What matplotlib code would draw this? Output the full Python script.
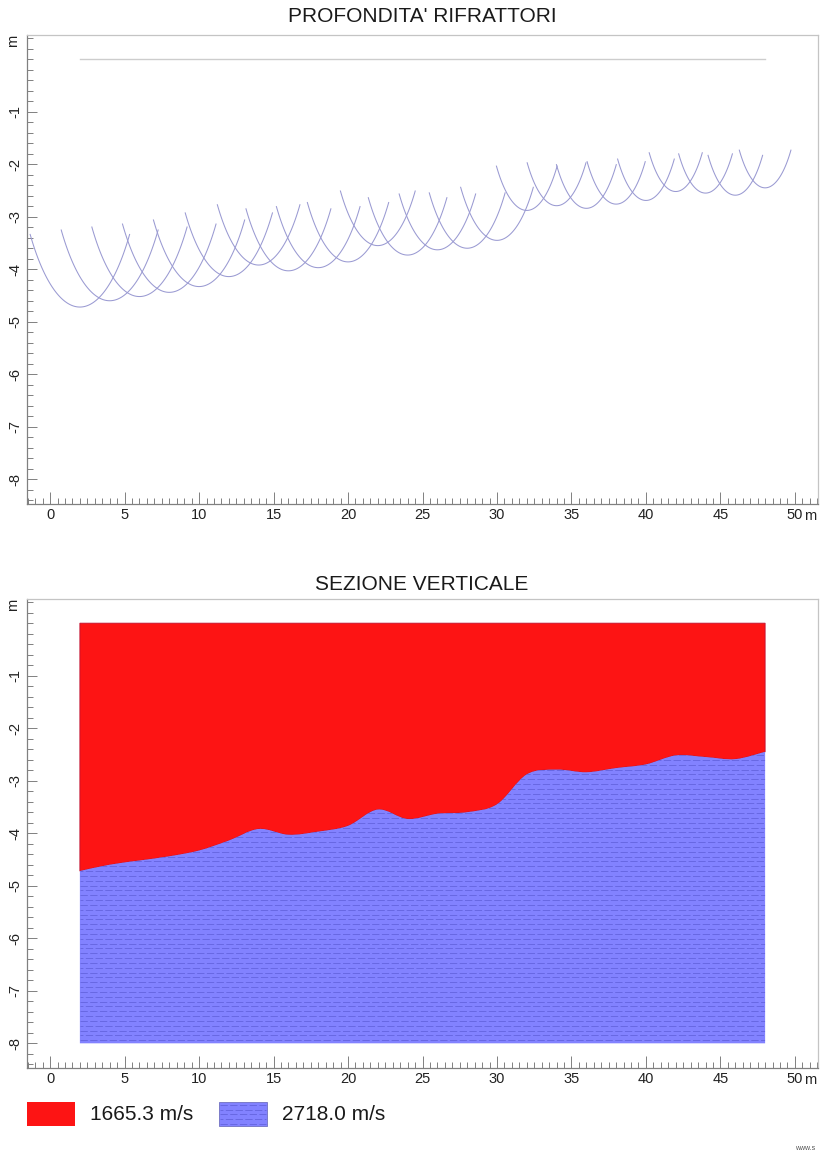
import numpy as np
import matplotlib
matplotlib.use("Agg")
import matplotlib.pyplot as plt
from matplotlib.path import Path
from matplotlib.patches import PathPatch, Rectangle
from matplotlib.lines import Line2D
from matplotlib.ticker import MultipleLocator, FixedLocator, FixedFormatter

plt.rcParams['font.family'] = ['Liberation Sans', 'DejaVu Sans']

# ---- data -------------------------------------------------------------
geophone_x = [2, 4, 6, 8, 10, 12, 14, 16, 18, 20, 22, 24,
              26, 28, 30, 32, 34, 36, 38, 40, 42, 44, 46, 48]
refractor_depth = [4.72, 4.60, 4.52, 4.44, 4.33, 4.14, 3.92, 4.03, 3.97, 3.86, 3.55, 3.73,
                   3.63, 3.60, 3.45, 2.88, 2.79, 2.84, 2.76, 2.69, 2.52, 2.55, 2.59, 2.45]
surface_level = 0.0
section_bottom = -8.0
layer_labels = ["1665.3 m/s", "2718.0 m/s"]
x_ticks = [0, 5, 10, 15, 20, 25, 30, 35, 40, 45, 50]
y_ticks = [-1, -2, -3, -4, -5, -6, -7, -8]
title_top = "PROFONDITA' RIFRATTORI"
title_bottom = "SEZIONE VERTICALE"

# ---- style ------------------------------------------------------------
W, H = 822, 1155
RED = '#fd1414'
BLUE = '#8282ff'
HATCH = '#5c5cd6'
ARC = '#9a9ad2'
XLIM = (-1.55, 51.55)
YLIM = (-8.47, 0.46)
ARC_HALF_ANGLE = np.radians(45)
TICK_FS = 10.5

fig = plt.figure(figsize=(W / 100, H / 100), dpi=100)


def px_box(left, top, right, bottom):
    return [left / W, 1 - bottom / H, (right - left) / W, (bottom - top) / H]


def style_axes(ax):
    ax.set_xlim(*XLIM)
    ax.set_ylim(*YLIM)
    for side in ('left', 'bottom'):
        ax.spines[side].set_color('#808080')
    for side in ('top', 'right'):
        ax.spines[side].set_color('#c4c4c4')
    for sp in ax.spines.values():
        sp.set_linewidth(0.9)
    ax.xaxis.set_major_locator(FixedLocator(x_ticks))
    ax.xaxis.set_major_formatter(FixedFormatter([str(v) for v in x_ticks]))
    ax.xaxis.set_minor_locator(MultipleLocator(0.5))
    ax.yaxis.set_major_locator(FixedLocator(y_ticks))
    ax.yaxis.set_major_formatter(FixedFormatter([str(v) for v in y_ticks]))
    ax.yaxis.set_minor_locator(MultipleLocator(0.2))
    ax.tick_params(axis='both', which='both', direction='in', colors='#808080',
                   labelcolor='#222222', labelsize=TICK_FS, width=0.7)
    ax.tick_params(axis='x', which='major', length=9, pad=3)
    ax.tick_params(axis='x', which='minor', length=4)
    ax.tick_params(axis='y', which='major', length=7, pad=3)
    ax.tick_params(axis='y', which='minor', length=4)
    for lab in ax.get_yticklabels():
        lab.set_rotation(90)
        lab.set_va('center')
    ax.text(-0.018, 1.0, 'm', transform=ax.transAxes, rotation=90,
            ha='center', va='top', fontsize=TICK_FS, color='#222222')
    ax.text(51.05, -0.010, 'm', transform=ax.get_xaxis_transform(),
            ha='center', va='top', fontsize=TICK_FS, color='#222222')


# ---- top panel: refractor arcs -----------------------------------------
ax1 = fig.add_axes(px_box(27, 35, 818, 504))
style_axes(ax1)
ax1.plot([geophone_x[0], geophone_x[-1]], [surface_level, surface_level],
         color='#cdcdcd', lw=1.0)
theta = np.linspace(-ARC_HALF_ANGLE, ARC_HALF_ANGLE, 80)
for xg, d in zip(geophone_x, refractor_depth):
    ax1.plot(xg + d * np.sin(theta), surface_level - d * np.cos(theta),
             color=ARC, lw=0.75)
fig.text(422 / W, 1 - 17 / H, title_top, ha='center', va='center',
         fontsize=15, color='#1a1a1a')

# ---- bottom panel: vertical section ------------------------------------
ax2 = fig.add_axes(px_box(27, 599, 818, 1068))
style_axes(ax2)

pts = np.column_stack([geophone_x, -np.asarray(refractor_depth)])


def smooth_segments(p):
    """Cubic Bezier control points of a Catmull-Rom curve through p."""
    verts, codes = [], []
    n = len(p)
    for i in range(n - 1):
        p0 = p[max(i - 1, 0)]
        p1 = p[i]
        p2 = p[i + 1]
        p3 = p[min(i + 2, n - 1)]
        c1 = p1 + (p2 - p0) / 6.0
        c2 = p2 - (p3 - p1) / 6.0
        verts += [tuple(c1), tuple(c2), tuple(p2)]
        codes += [Path.CURVE4] * 3
    return verts, codes


rev = pts[::-1]
cv, cc = smooth_segments(rev)
x0, x1 = geophone_x[0], geophone_x[-1]

red_verts = [(x0, surface_level), (x1, surface_level), tuple(rev[0])] + cv + [(x0, surface_level)]
red_codes = [Path.MOVETO, Path.LINETO, Path.LINETO] + cc + [Path.CLOSEPOLY]
red_patch = PathPatch(Path(red_verts, red_codes), facecolor=RED,
                      edgecolor='#c01030', lw=0.6)
ax2.add_patch(red_patch)

blue_verts = [(x0, section_bottom), (x1, section_bottom), tuple(rev[0])] + cv + [(x0, section_bottom)]
blue_codes = [Path.MOVETO, Path.LINETO, Path.LINETO] + cc + [Path.CLOSEPOLY]
blue_patch = PathPatch(Path(blue_verts, blue_codes), facecolor=BLUE,
                       edgecolor='none', lw=0)
ax2.add_patch(blue_patch)

# dashed texture inside the lower layer
rows = np.arange(section_bottom + 0.06, surface_level, 0.092)
for k, yr in enumerate(rows):
    ln, = ax2.plot([x0, x1], [yr, yr], color=HATCH, lw=0.7, alpha=0.7,
                   linestyle=((k % 2) * 4.5, (7.5, 2.5)))
    ln.set_clip_path(blue_patch)

fig.text(422 / W, 1 - 585 / H, title_bottom, ha='center', va='center',
         fontsize=15, color='#1a1a1a')

# ---- legend ------------------------------------------------------------
def fig_rect(left, top, right, bottom, **kw):
    r = Rectangle((left / W, 1 - bottom / H), (right - left) / W, (bottom - top) / H,
                  transform=fig.transFigure, **kw)
    fig.add_artist(r)
    return r


fig_rect(27, 1102, 75, 1126, facecolor=RED, edgecolor='none')
fig_rect(219, 1102, 267, 1126, facecolor=BLUE, edgecolor='#7070c0', lw=0.6)
for k, yp in enumerate(np.arange(1105, 1125, 4.7)):
    ln = Line2D([220 / W, 266 / W], [1 - yp / H, 1 - yp / H], transform=fig.transFigure,
                color=HATCH, lw=0.7, alpha=0.7, linestyle=((k % 2) * 4.5, (7.5, 2.5)))
    fig.add_artist(ln)

fig.text(90 / W, 1 - 1115 / H, layer_labels[0], ha='left', va='center',
         fontsize=15, color='#1a1a1a')
fig.text(282 / W, 1 - 1115 / H, layer_labels[1], ha='left', va='center',
         fontsize=15, color='#1a1a1a')
fig.text(795 / W, 1 - 1149 / H, 'www.s', ha='left', va='center',
         fontsize=5, color='#555555')

fig.savefig('out.png', dpi=100, facecolor='white')
